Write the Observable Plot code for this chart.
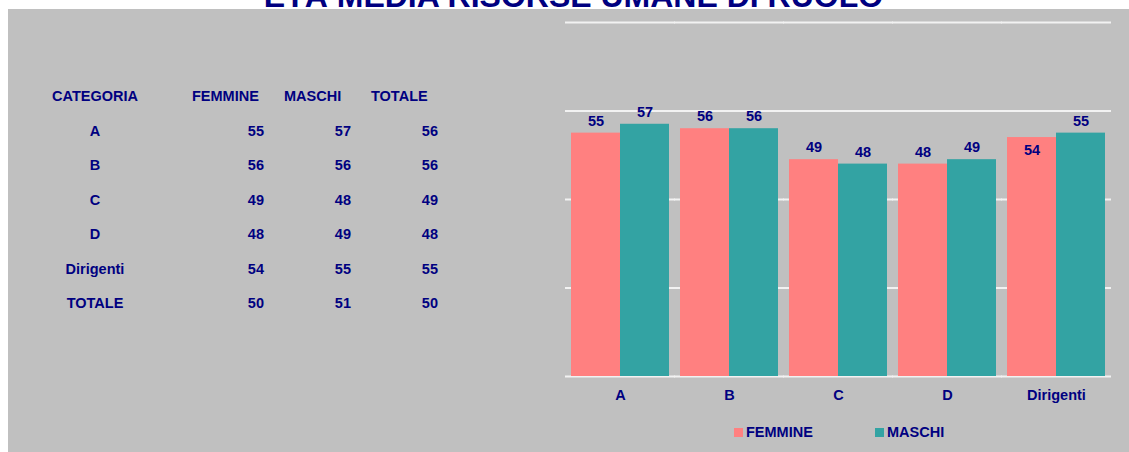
<!DOCTYPE html>
<html>
<head>
<meta charset="utf-8">
<script src="https://cdn.jsdelivr.net/npm/d3@7"></script>
<script src="https://cdn.jsdelivr.net/npm/@observablehq/plot@0.6"></script>
<style>
  html, body { margin: 0; padding: 0; background: #ffffff; width: 1129px; height: 452px; overflow: hidden; }
  body { position: relative; font-family: "Liberation Sans", Arial, sans-serif; color: #000080; }
  #bg { position: absolute; left: 8px; top: 9px; width: 1121px; height: 443px; background: #C0C0C0; }
  #title { position: absolute; left: 0; width: 1147px; text-align: center; top: -20px; font-size: 32px; line-height: 32px; font-weight: bold; white-space: nowrap; }
  .cell { position: absolute; font-size: 14.5px; font-weight: bold; line-height: 14px; white-space: nowrap; }
  #chart { position: absolute; left: 540px; top: 9px; }
  .leg { position: absolute; font-size: 14.5px; font-weight: bold; line-height: 14px; white-space: nowrap; }
  .sw { position: absolute; width: 9px; height: 9px; }
</style>
</head>
<body>
<div id="bg"></div>
<div id="title">ETÀ MEDIA RISORSE UMANE DI RUOLO</div>
<div id="table"></div>
<div id="chart"></div>
<div id="legend"></div>
<script>
// ---- data ----
const categories = ["A", "B", "C", "D", "Dirigenti"];
const femmine = [55, 56, 49, 48, 54];
const maschi = [57, 56, 48, 49, 55];
const seriesNames = ["FEMMINE", "MASCHI"];
const seriesColors = ["#FF8080", "#33A3A3"];
const gridValues = [0, 20, 40, 60, 80];

const tableHeaders = ["CATEGORIA", "FEMMINE", "MASCHI", "TOTALE"];
const tableRows = ["A", "B", "C", "D", "Dirigenti", "TOTALE"];
const tabFemmine = [55, 56, 49, 48, 54, 50];
const tabMaschi = [57, 56, 48, 49, 55, 51];
const tabTotale = [56, 56, 49, 48, 55, 50];

// ---- table (HTML) ----
const tableEl = document.getElementById("table");
function cell(text, x, yc, align) {
  const d = document.createElement("div");
  d.className = "cell";
  d.textContent = text;
  d.style.top = (yc - 7) + "px";
  if (align === "center") { d.style.left = x + "px"; d.style.transform = "translateX(-50%)"; }
  else if (align === "right") { d.style.right = (1129 - x) + "px"; }
  else { d.style.left = x + "px"; }
  tableEl.appendChild(d);
}
const headerY = 96;
const rowY0 = 131, rowStep = 34.4;
cell(tableHeaders[0], 95, headerY, "center");
cell(tableHeaders[1], 192, headerY, "left");
cell(tableHeaders[2], 284, headerY, "left");
cell(tableHeaders[3], 371, headerY, "left");
tableRows.forEach((r, i) => {
  const y = rowY0 + i * rowStep;
  cell(r, 95, y, "center");
  cell(String(tabFemmine[i]), 264, y, "right");
  cell(String(tabMaschi[i]), 351, y, "right");
  cell(String(tabTotale[i]), 438, y, "right");
});

// ---- chart ----
const data = [];
categories.forEach((c, i) => {
  data.push({cat: c, series: seriesNames[0], value: femmine[i]});
  data.push({cat: c, series: seriesNames[1], value: maschi[i]});
});
const isInside = d => d.cat === "Dirigenti" && d.series === "FEMMINE";

const plot = Plot.plot({
  width: 589,
  height: 443,
  marginLeft: 25,
  marginRight: 17,
  marginTop: 13,
  marginBottom: 76,
  style: {background: "transparent", color: "#000080", fontFamily: "Liberation Sans, Arial, sans-serif", fontSize: "14.5px", fontWeight: "bold"},
  fx: {domain: categories, paddingInner: 0.1, paddingOuter: 0.05, axis: "bottom", label: null, tickSize: 0, tickPadding: 13},
  x: {domain: seriesNames, padding: 0, axis: null},
  y: {domain: [0, 80], axis: null},
  color: {domain: seriesNames, range: seriesColors},
  marks: [
    Plot.ruleY(gridValues, {stroke: "#F2F2F2", strokeWidth: 2, insetLeft: -6, insetRight: -6}),
    Plot.barY(data, {fx: "cat", x: "series", y: "value", fill: "series"}),
    Plot.text(data.filter(d => !isInside(d)), {fx: "cat", x: "series", y: "value", text: d => String(d.value), dy: -12, fontSize: 14.5, fontWeight: "bold", fill: "#000080"}),
    Plot.text(data.filter(isInside), {fx: "cat", x: "series", y: "value", text: d => String(d.value), dy: 13, fontSize: 14.5, fontWeight: "bold", fill: "#000080"})
  ]
});
document.getElementById("chart").appendChild(plot);

// ---- legend (HTML) ----
const legendEl = document.getElementById("legend");
const legendX = [734, 875];
seriesNames.forEach((s, i) => {
  const sw = document.createElement("div");
  sw.className = "sw";
  sw.style.left = legendX[i] + "px";
  sw.style.top = "427.5px";
  sw.style.background = seriesColors[i];
  legendEl.appendChild(sw);
  const t = document.createElement("div");
  t.className = "leg";
  t.textContent = s;
  t.style.left = (legendX[i] + 12) + "px";
  t.style.top = "425px";
  legendEl.appendChild(t);
});
</script>
</body>
</html>
